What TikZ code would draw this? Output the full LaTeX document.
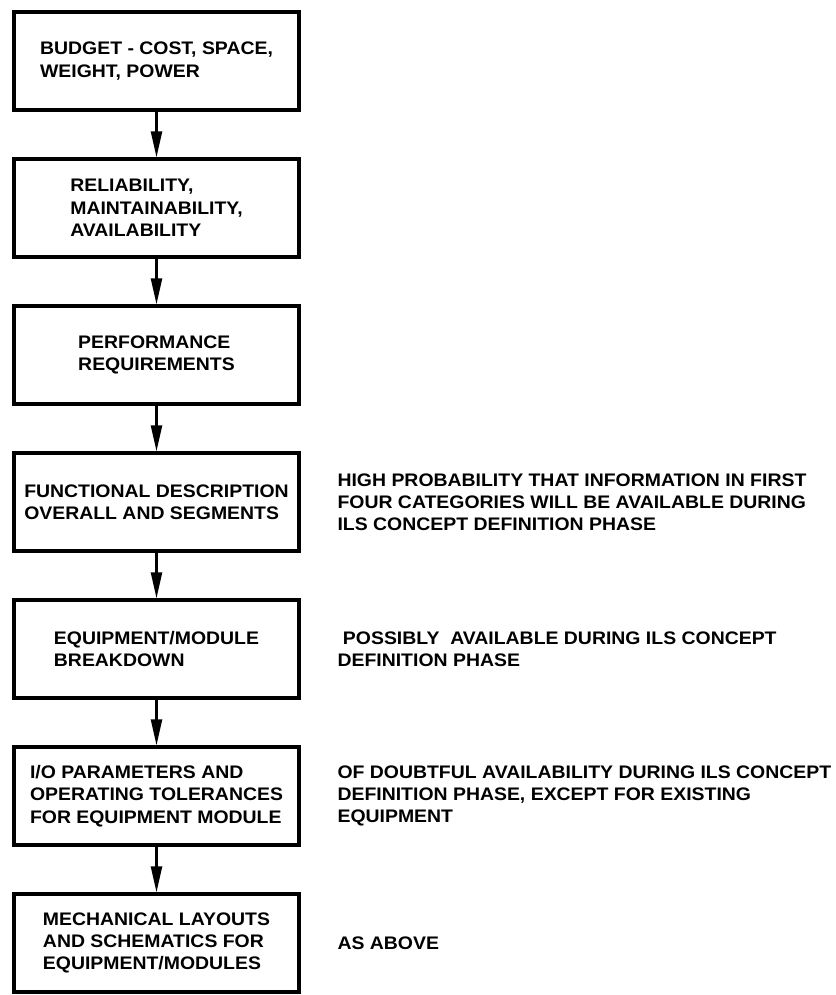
\documentclass[tikz,border=0pt]{standalone}
\usepackage{fontspec}
\setmainfont{Liberation Sans}[FakeStretch=1.07]
\usetikzlibrary{positioning,arrows.meta}

\tikzset{
    stage/.style={draw, line width=2.8pt, minimum width=8.55cm, minimum height=2.94cm,
        inner sep=0pt, align=left, font=\bfseries\fontsize{15.5}{19}\selectfont},
    note/.style={inner sep=0pt, align=left, font=\bfseries\fontsize{15.5}{19}\selectfont},
    flow/.style={line width=2pt, -{Triangle[length=0.78cm, width=0.33cm]}}
}

\begin{document}
\begin{tikzpicture}[x=0.03cm, y=-0.03cm]
    \useasboundingbox (0,0) rectangle (836,995);
    \def\boxX{156.5}
    \def\boxPitch{147}

    % the chain of stages
    \foreach \i/\txt in {1/{BUDGET - COST, SPACE,\\WEIGHT, POWER},
                         2/{RELIABILITY,\\MAINTAINABILITY,\\AVAILABILITY},
                         3/{PERFORMANCE\\REQUIREMENTS},
                         4/{FUNCTIONAL DESCRIPTION\\OVERALL AND SEGMENTS},
                         5/{EQUIPMENT/MODULE\\BREAKDOWN},
                         6/{I/O PARAMETERS AND\\OPERATING TOLERANCES\\FOR EQUIPMENT MODULE},
                         7/{MECHANICAL LAYOUTS\\AND SCHEMATICS FOR\\EQUIPMENT/MODULES}}
        \node[stage] (b\i) at (\boxX, {61+\boxPitch*(\i-1)}) {\txt};

    \foreach \a [count=\b from 2] in {1,...,6}
        \draw[flow] (b\a) -- (b\b);

    % remarks on availability
    \node[note, right=1.1cm of b4] (n4) {HIGH PROBABILITY THAT INFORMATION IN FIRST\\FOUR CATEGORIES WILL BE AVAILABLE DURING\\ILS CONCEPT DEFINITION PHASE};
    \node[note, right=1.1cm of b5] (n5) {\hspace*{0.3em}POSSIBLY\ \ AVAILABLE DURING ILS CONCEPT\\DEFINITION PHASE};
    \node[note, right=1.1cm of b6] (n6) {OF DOUBTFUL AVAILABILITY DURING ILS CONCEPT\\DEFINITION PHASE, EXCEPT FOR EXISTING\\EQUIPMENT};
    \node[note, right=1.1cm of b7] (n7) {AS ABOVE};
\end{tikzpicture}
\end{document}
